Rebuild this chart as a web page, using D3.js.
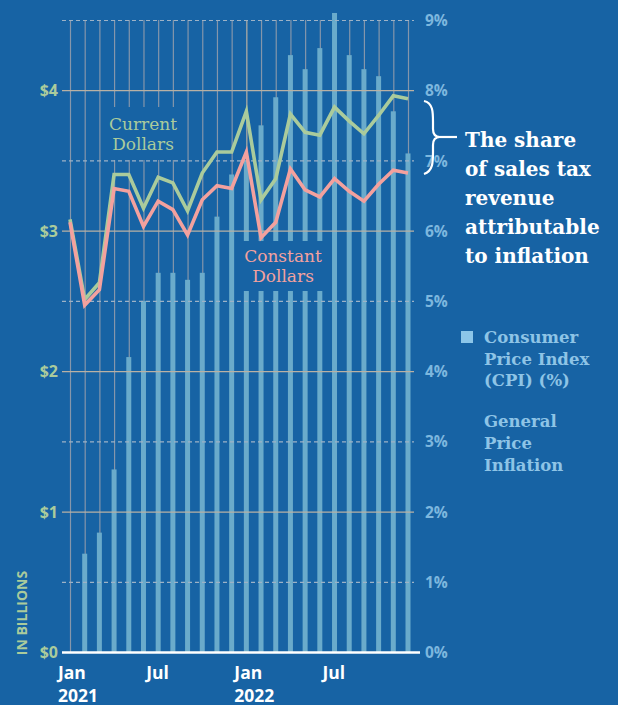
<!DOCTYPE html>
<html>
<head>
<meta charset="utf-8">
<script src="https://cdn.jsdelivr.net/npm/d3@7"></script>
<style>
  html, body { margin: 0; padding: 0; background: #1763a4; }
  svg { display: block; }
</style>
</head>
<body>
<svg id="chart" width="618" height="705"></svg>
<script>
// ---------------- DATA ----------------
const months = ["2021-01","2021-02","2021-03","2021-04","2021-05","2021-06","2021-07","2021-08","2021-09","2021-10","2021-11","2021-12",
                "2022-01","2022-02","2022-03","2022-04","2022-05","2022-06","2022-07","2022-08","2022-09","2022-10","2022-11","2022-12"];
// CPI bars (%), right axis
const cpi = [null, 1.4, 1.7, 2.6, 4.2, 5.0, 5.4, 5.4, 5.3, 5.4, 6.2, 6.8,
             7.0, 7.5, 7.9, 8.5, 8.3, 8.6, 9.1, 8.5, 8.3, 8.2, 7.7, 7.1];
// Sales tax revenue, $ billions, left axis
const currentDollars = [3.08, 2.51, 2.63, 3.40, 3.40, 3.16, 3.38, 3.34, 3.14, 3.41, 3.56, 3.56,
                        3.85, 3.22, 3.37, 3.83, 3.70, 3.68, 3.88, 3.78, 3.69, 3.82, 3.96, 3.94];
const constantDollars = [3.06, 2.47, 2.58, 3.30, 3.28, 3.03, 3.21, 3.15, 2.97, 3.22, 3.32, 3.30,
                         3.56, 2.95, 3.06, 3.44, 3.29, 3.24, 3.37, 3.28, 3.21, 3.33, 3.43, 3.41];
const leftTicks = [0, 1, 2, 3, 4];
const leftMinorTicks = [0.5, 1.5, 2.5, 3.5, 4.5];
const rightTicks = [0, 1, 2, 3, 4, 5, 6, 7, 8, 9];
const yearStartMonth = "2022-01";
const xTickMonths = ["2021-01", "2021-07", "2022-01", "2022-07"];
const xTickMonthLabels = ["Jan", "Jul", "Jan", "Jul"];
const xTickYearLabels = ["2021", "", "2022", ""];
const annotationLines = ["The share", "of sales tax", "revenue", "attributable", "to inflation"];
const legendCpiLines = ["Consumer", "Price Index", "(CPI) (%)"];
const legendGeneralLines = ["General", "Price", "Inflation"];

// ---------------- STYLE ----------------
const BG = "#1763a4";
const BAR = "#6aabcb";
const GREEN = "#aacb9c";
const PINK = "#f3a19e";
const RIGHT_LABEL = "#7db7de";
const LEGEND_TEXT = "#8ec4e6";
const TAN = "#b9b1a4";
const SANS = "'Open Sans', 'DejaVu Sans', sans-serif";
const SLAB = "'DejaVu Serif', serif";

const svg = d3.select("#chart");
svg.append("rect").attr("width", 618).attr("height", 705).attr("fill", BG);

const x = d3.scalePoint().domain(months).range([70, 408]);
const yL = d3.scaleLinear().domain([0, 4.5]).range([652, 20]);
const yR = d3.scaleLinear().domain([0, 9]).range([652, 20]);
const gridLeft = 62, gridRight = 414;

// vertical month gridlines
svg.append("g")
  .attr("transform", `translate(0,${yL(0)})`)
  .call(d3.axisBottom(x).tickSize(-(yL(0) - yL(4.5))).tickFormat(""))
  .call(g => g.select(".domain").remove())
  .call(g => g.selectAll(".tick line")
    .attr("stroke", d => d === yearStartMonth ? TAN : "#8596ab")
    .attr("stroke-width", 1.2));

// bars
const bw = 5;
svg.append("g").selectAll("rect")
  .data(months.map((m, i) => ({ m, v: cpi[i] })).filter(d => d.v != null))
  .join("rect")
  .attr("x", d => x(d.m) - bw / 2)
  .attr("width", bw)
  .attr("y", d => yR(d.v))
  .attr("height", d => yR(0) - yR(d.v))
  .attr("fill", BAR);

// label backgrounds (knock out grid behind labels)
svg.append("rect").attr("x", 105).attr("y", 107).attr("width", 76).attr("height", 53).attr("fill", BG);
svg.append("rect").attr("x", 241).attr("y", 241).attr("width", 83).attr("height", 50).attr("fill", BG);

// horizontal gridlines: major solid
svg.append("g")
  .attr("transform", `translate(${gridLeft},0)`)
  .call(d3.axisLeft(yL).tickValues(leftTicks.filter(d => d > 0)).tickSize(-(gridRight - gridLeft)).tickFormat(""))
  .call(g => g.select(".domain").remove())
  .call(g => g.selectAll("line").attr("stroke", TAN).attr("stroke-width", 1.2));
// minor dashed
svg.append("g")
  .attr("transform", `translate(${gridLeft},0)`)
  .call(d3.axisLeft(yL).tickValues(leftMinorTicks).tickSize(-(gridRight - gridLeft)).tickFormat(""))
  .call(g => g.select(".domain").remove())
  .call(g => g.selectAll("line").attr("stroke", "#9db2c6").attr("stroke-width", 1.2).attr("stroke-dasharray", "4,3"));

// lines
const line = d3.line().x((d, i) => x(months[i])).y(d => yL(d));
svg.append("path").datum(currentDollars).attr("d", line)
  .attr("fill", "none").attr("stroke", GREEN).attr("stroke-width", 3.6).attr("stroke-linejoin", "miter");
svg.append("path").datum(constantDollars).attr("d", line)
  .attr("fill", "none").attr("stroke", PINK).attr("stroke-width", 3.6).attr("stroke-linejoin", "miter");

// x baseline
svg.append("line").attr("x1", gridLeft).attr("x2", 420).attr("y1", yL(0) + 0.5).attr("y2", yL(0) + 0.5)
  .attr("stroke", "#ffffff").attr("stroke-width", 2.5);

// left axis labels
const leftAxis = svg.append("g")
  .attr("transform", `translate(58,0)`)
  .call(d3.axisLeft(yL).tickValues(leftTicks).tickSize(0).tickPadding(0).tickFormat(d => "$" + d));
leftAxis.select(".domain").remove();
leftAxis.selectAll("text").attr("fill", GREEN).attr("font-family", SANS).attr("font-weight", 700).attr("font-size", 16).attr("dy", "0.36em");

// right axis labels
const rightAxis = svg.append("g")
  .attr("transform", `translate(425,0)`)
  .call(d3.axisRight(yR).tickValues(rightTicks).tickSize(0).tickPadding(0).tickFormat(d => d + "%"));
rightAxis.select(".domain").remove();
rightAxis.selectAll("text").attr("fill", RIGHT_LABEL).attr("font-family", SANS).attr("font-weight", 700).attr("font-size", 15.5).attr("dy", "0.36em");

// x axis labels
const xl = svg.append("g");
xTickMonths.forEach((m, i) => {
  xl.append("text").attr("x", x(m) - 12).attr("y", 679)
    .attr("fill", "#ffffff").attr("font-family", SANS).attr("font-weight", 700).attr("font-size", 17.5)
    .text(xTickMonthLabels[i]);
  if (xTickYearLabels[i]) {
    xl.append("text").attr("x", x(m) - 12).attr("y", 701.5)
      .attr("fill", "#ffffff").attr("font-family", SANS).attr("font-weight", 700).attr("font-size", 17.5)
      .text(xTickYearLabels[i]);
  }
});

// y title
svg.append("text")
  .attr("transform", "translate(27,613) rotate(-90)")
  .attr("text-anchor", "middle")
  .attr("fill", GREEN).attr("font-family", SANS).attr("font-weight", 700).attr("font-size", 14)
  .text("IN BILLIONS");

// series labels
function multiline(xc, y0, lh, lines, fill, size, weight, anchor) {
  const t = svg.append("text").attr("fill", fill).attr("font-family", SLAB)
    .attr("font-size", size).attr("font-weight", weight).attr("text-anchor", anchor);
  lines.forEach((s, i) => t.append("tspan").attr("x", xc).attr("y", y0 + i * lh).text(s));
  return t;
}
multiline(143, 130, 19.5, ["Current", "Dollars"], GREEN, 17, 400, "middle");
multiline(283, 262, 20, ["Constant", "Dollars"], PINK, 17, 400, "middle");

// annotation brace
svg.append("path")
  .attr("d", "M424,101 C433,103 433,112 433,122 L433,129 C433,134 435,137 440,137 C435,137 433,140 433,145 L433,152 C433,162 433,171 424,174")
  .attr("fill", "none").attr("stroke", "#ffffff").attr("stroke-width", 2.2);
svg.append("line").attr("x1", 440).attr("x2", 457).attr("y1", 137).attr("y2", 137)
  .attr("stroke", "#ffffff").attr("stroke-width", 2.2);
multiline(465, 147, 29, annotationLines, "#ffffff", 20, 700, "start");

// legend
svg.append("rect").attr("x", 461).attr("y", 331).attr("width", 12).attr("height", 12).attr("fill", "#8cc6e9");
multiline(484, 343, 21.5, legendCpiLines, LEGEND_TEXT, 16.5, 700, "start");
multiline(484, 427, 22, legendGeneralLines, LEGEND_TEXT, 16.5, 700, "start");
</script>
</body>
</html>
